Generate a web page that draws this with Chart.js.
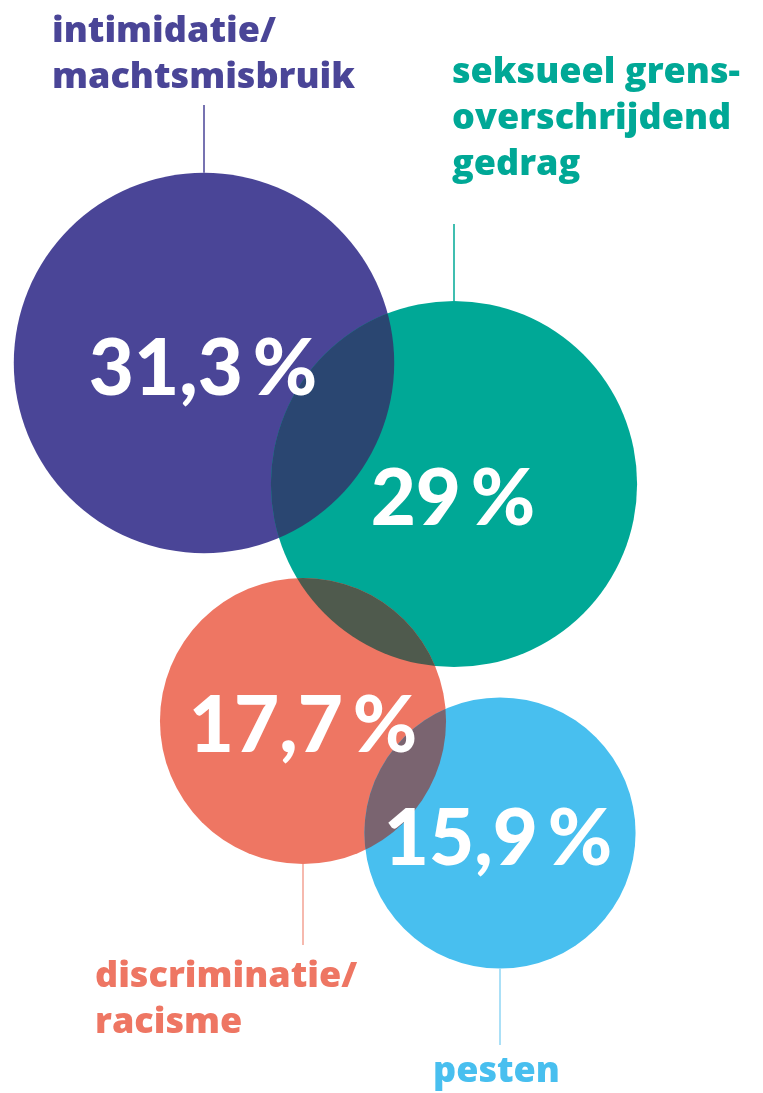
<!DOCTYPE html>
<html>
<head>
<meta charset="utf-8">
<script src="https://cdn.jsdelivr.net/npm/chart.js@4.4.1/dist/chart.umd.min.js"></script>
<style>
  html, body { margin: 0; padding: 0; background: #fff; }
  #chart { display: block; }
</style>
</head>
<body>
<canvas id="chart" width="763" height="1093"></canvas>
<script>
// Categorieën en waarden
const categories = [
  ['intimidatie/', 'machtsmisbruik'],
  ['seksueel grens-', 'overschrijdend', 'gedrag'],
  ['discriminatie/', 'racisme'],
  ['pesten']
];
const percentages = [31.3, 29, 17.7, 15.9];
const percentLabels = ['31,3', '29', '17,7', '15,9'];
// Positie van de cirkels (pixels in de tekening)
const bubbleX = [204, 454, 303, 500];
const bubbleY = [363, 484, 721, 833];

// Stijlen
const colors = ['#4a4597', '#00a896', '#ee7663', '#48bfef'];
const lineColors = ['#4a4597', '#00a896', '#f3a293', '#8fd6f5'];
const overlaps = [
  [0, 1, '#2a4671'],
  [1, 2, '#4f5a4d'],
  [2, 3, '#7a6470']
];
const radiusScale = 34; // oppervlakte evenredig met het percentage

// Plaatsing van de teksten
const labelPos = [
  { x: 52, y: 42, lineY: 105, side: 'top' },
  { x: 452, y: 83, lineY: 224, side: 'top' },
  { x: 95, y: 987, lineY: 945, side: 'bottom' },
  { x: 433, y: 1082, lineY: 1045, side: 'bottom' }
];
const percentBaseline = [32, 41, 31, 32];
const percentShiftX = [-1, -1, 0, -2];

const W = 763, H = 1093;
const fontFamily = 'Lato, "Open Sans", sans-serif';

const pointData = percentages.map(function (v, i) {
  return { x: bubbleX[i], y: bubbleY[i], r: radiusScale * Math.sqrt(v) };
});
// Chart.js houdt rand vrij ter grootte van de grootste bel
const maxR = Math.max.apply(null, pointData.map(function (p) { return p.r; }));

// Plugin voor de overlappende delen, lijnen en teksten
const decorPlugin = {
  id: 'decor',
  afterDatasetsDraw: function (chart) {
    const ctx = chart.ctx;
    const els = chart.getDatasetMeta(0).data;

    overlaps.forEach(function (o) {
      const a = els[o[0]], b = els[o[1]];
      ctx.save();
      ctx.beginPath();
      ctx.arc(a.x, a.y, a.options.radius, 0, Math.PI * 2);
      ctx.clip();
      ctx.beginPath();
      ctx.arc(b.x, b.y, b.options.radius, 0, Math.PI * 2);
      ctx.fillStyle = o[2];
      ctx.fill();
      ctx.restore();
    });

    // lijntjes
    els.forEach(function (el, i) {
      const p = labelPos[i];
      const r = el.options.radius;
      const edge = p.side === 'top' ? el.y - r : el.y + r;
      ctx.save();
      ctx.strokeStyle = lineColors[i];
      ctx.lineWidth = 1.5;
      ctx.beginPath();
      ctx.moveTo(el.x, edge);
      ctx.lineTo(el.x, p.lineY);
      ctx.stroke();
      ctx.restore();
    });

    // percentages
    els.forEach(function (el, i) {
      ctx.save();
      ctx.fillStyle = '#ffffff';
      ctx.font = '900 78px ' + fontFamily;
      ctx.textAlign = 'center';
      ctx.textBaseline = 'alphabetic';
      ctx.fillText(percentLabels[i] + '\u2009%', el.x + percentShiftX[i], el.y + percentBaseline[i]);
      ctx.restore();
    });

    // categorienamen
    categories.forEach(function (lines, i) {
      const p = labelPos[i];
      ctx.save();
      ctx.fillStyle = colors[i];
      ctx.font = '800 36px "Open Sans", sans-serif';
      ctx.textAlign = 'left';
      ctx.textBaseline = 'alphabetic';
      lines.forEach(function (t, k) {
        ctx.fillText(t, p.x, p.y + k * 46);
      });
      ctx.restore();
    });
  }
};

const ctx = document.getElementById('chart').getContext('2d');
new Chart(ctx, {
  type: 'bubble',
  data: {
    datasets: [{
      label: 'Meldingen',
      data: pointData,
      backgroundColor: colors,
      borderWidth: 0,
      hoverRadius: 0,
      clip: false
    }]
  },
  options: {
    responsive: false,
    animation: false,
    layout: { padding: 0 },
    plugins: {
      legend: { display: false },
      tooltip: { enabled: false }
    },
    scales: {
      x: { type: 'linear', min: maxR, max: W - maxR, display: false },
      y: { type: 'linear', min: maxR, max: H - maxR, reverse: true, display: false }
    }
  },
  plugins: [decorPlugin]
});
</script>
</body>
</html>
